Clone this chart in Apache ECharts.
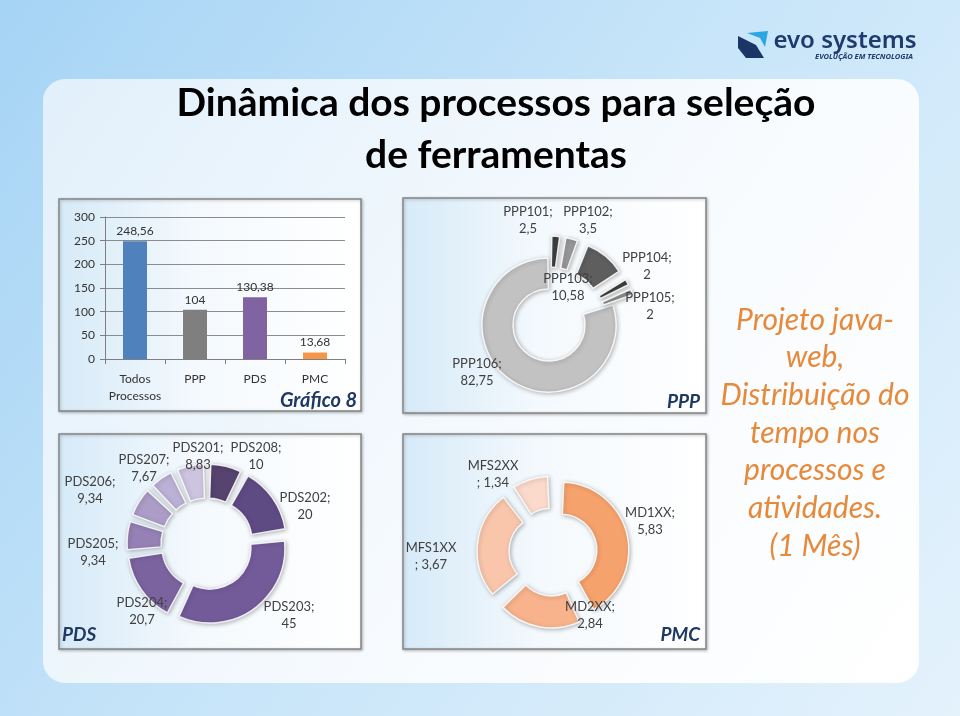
<!DOCTYPE html>
<html><head><meta charset="utf-8">
<script src="https://cdn.jsdelivr.net/npm/echarts/dist/echarts.min.js"></script>
<style>html,body{margin:0;padding:0;background:#c9e5f8;} #c{width:960px;height:716px;}</style>
</head><body><div id="c"></div>
<script>
// ---- data ----
const barCategories = ['Todos\nProcessos', 'PPP', 'PDS', 'PMC'];
const barValues = [248.56, 104, 130.38, 13.68];
const yTickMin = 0, yTickMax = 300, yTickStep = 50;

const pppNames = ['PPP101', 'PPP102', 'PPP103', 'PPP104', 'PPP105', 'PPP106'];
const pppValues = [2.5, 3.5, 10.58, 2, 2, 82.75];

const pdsNames = ['PDS208', 'PDS202', 'PDS203', 'PDS204', 'PDS205', 'PDS206', 'PDS207', 'PDS201'];
const pdsValues = [10, 20, 45, 20.7, 9.34, 9.34, 7.67, 8.83];

const pmcNames = ['MD1XX', 'MD2XX', 'MFS1XX', 'MFS2XX'];
const pmcValues = [5.83, 2.84, 3.67, 1.34];

// ---- styles / layout (not data) ----
const barColors = ['#4f81bd', '#7f7f7f', '#8064a2', '#f79646'];
const pppColors = ['#3f3f3f', '#989898', '#5e5e5e', '#3f3f3f', '#8f8f8f', '#c2c2c2'];
const pdsColors = ['#56436f', '#5f4b84', '#735b9a', '#7b63a0', '#9581b5', '#ab9dc7', '#bbb0d5', '#cdc4e0'];
const pmcColors = ['#f6a26d', '#f8b38c', '#f9c6ab', '#fcdacb'];

const pppCenter = [549, 325], pdsCenter = [207, 544], pmcCenter = [553, 552];
// data-label box centres relative to each pie centre (Excel "best fit" placement)
const pppLabelOffsets = [[-21, -105], [39, -105], [19, -38], [98, -59], [101, -19], [-72, 47]];
const pdsLabelOffsets = [[49, -88], [98, -38], [82, 71], [-65, 67], [-114, 8], [-117, -54], [-63, -76], [-9, -88]];
const pmcLabelOffsets = [[97, -31], [37, 63], [-122, 4], [-60, -78]];

const fmt = v => String(v).replace('.', ',');
const F = 'Lato, "Open Sans", sans-serif';
const sliceStyle = { borderColor: 'rgba(255,255,255,0.85)', borderWidth: 1.5, shadowBlur: 4, shadowColor: 'rgba(0,0,0,0.28)', shadowOffsetX: 1, shadowOffsetY: 1 };

function pieLabels(center, names, values, offsets, textFn) {
  return names.map((n, i) => ({
    type: 'text', z: 6,
    style: { text: textFn(n, values[i]), x: center[0] + offsets[i][0], y: center[1] + offsets[i][1],
      font: '13px ' + F, fill: '#404040', lineHeight: 17, textAlign: 'center', textVerticalAlign: 'middle' }
  }));
}
const stdLabel = (n, v) => n + ';\n' + fmt(v);
const pmcLabel = (n, v) => n.indexOf('MFS') === 0 ? n + '\n; ' + fmt(v) : n + ';\n' + fmt(v);

function box(x, y, w, h) {
  return {
    type: 'rect', z: -1, shape: { x, y, width: w, height: h },
    style: {
      fill: new echarts.graphic.LinearGradient(0, 0, 1, 0, [
        { offset: 0, color: '#d6eaf8' }, { offset: 0.45, color: '#f4f9fd' }, { offset: 1, color: '#ffffff' }]),
      stroke: '#858585', lineWidth: 1.5,
      shadowBlur: 3, shadowColor: 'rgba(0,0,0,0.25)', shadowOffsetX: 1, shadowOffsetY: 1
    }
  };
}
function txt(text, x, y, font, fill, align) {
  return { type: 'text', z: 5, style: { text, x, y, font, fill, textAlign: align || 'center', textVerticalAlign: 'middle' } };
}

const chart = echarts.init(document.getElementById('c'));
chart.setOption({
  animation: false,
  graphic: [
    { type: 'rect', z: -3, shape: { x: 0, y: 0, width: 960, height: 716 },
      style: { fill: new echarts.graphic.LinearGradient(0, 0, 1, 1, [
        { offset: 0, color: '#a6d4f5' }, { offset: 0.5, color: '#c8e5f9' }, { offset: 1, color: '#e4f2fc' }]) } },
    { type: 'rect', z: -2, shape: { x: 43, y: 79, width: 876, height: 604, r: 22 },
      style: { fill: new echarts.graphic.LinearGradient(0, 0, 1, 1, [
        { offset: 0, color: '#e2f0fb' }, { offset: 0.6, color: '#f8fbfe' }, { offset: 1, color: '#ffffff' }]) } },
    box(59, 199, 302, 212),
    box(403, 198, 303, 215),
    box(59, 434, 302, 215),
    box(403, 434, 303, 215),
    txt('Dinâmica dos processos para seleção', 496, 103, 'bold 39px ' + F, '#000'),
    txt('de ferramentas', 496, 155, 'bold 39px ' + F, '#000'),
    txt('Gráfico 8', 357, 401, 'italic bold 20px ' + F, '#1f3864', 'right'),
    txt('PPP', 700, 402, 'italic bold 19px ' + F, '#1f3864', 'right'),
    txt('PDS', 62, 635, 'italic bold 19px ' + F, '#1f3864', 'left'),
    txt('PMC', 700, 635, 'italic bold 19px ' + F, '#1f3864', 'right'),
    { type: 'text', z: 5, style: {
        text: 'Projeto java-\nweb,\nDistribuição do\ntempo nos\nprocessos e\natividades.\n(1 Mês)',
        x: 815, y: 433, font: 'italic 30px ' + F, fill: '#e6893b', lineHeight: 37.7,
        textAlign: 'center', textVerticalAlign: 'middle' } },
    // logo
    { type: 'polygon', z: 5, shape: { points: [[738, 36], [756, 45], [764, 58], [746, 58], [738, 48]] }, style: { fill: '#1b3566' } },
    { type: 'polygon', z: 5, shape: { points: [[747, 33], [768, 31], [765, 47], [760, 38]] }, style: { fill: '#2aa7e0' } },
    txt('evo systems', 845, 41, '600 24px "Noto Sans", sans-serif', '#1f3a6e'),
    txt('EVOLUÇÃO EM TECNOLOGIA', 913, 57, 'italic bold 7.5px "Noto Sans", sans-serif', '#1f3a6e', 'right')
  ].concat(
    pieLabels(pppCenter, pppNames, pppValues, pppLabelOffsets, stdLabel),
    pieLabels(pdsCenter, pdsNames, pdsValues, pdsLabelOffsets, stdLabel),
    pieLabels(pmcCenter, pmcNames, pmcValues, pmcLabelOffsets, pmcLabel)
  ),
  grid: { left: 105, top: 217, width: 240, height: 142 },
  xAxis: {
    type: 'category', data: barCategories,
    axisLine: { lineStyle: { color: '#7f7f7f' } },
    axisTick: { show: true, alignWithLabel: false, lineStyle: { color: '#7f7f7f' } },
    axisLabel: { fontSize: 12, color: '#333', fontFamily: F, margin: 12, lineHeight: 17, interval: 0 }
  },
  yAxis: {
    type: 'value', min: yTickMin, max: yTickMax, interval: yTickStep,
    axisLine: { show: true, lineStyle: { color: '#7f7f7f' } },
    axisTick: { show: true, lineStyle: { color: '#7f7f7f' } },
    axisLabel: { fontSize: 12, color: '#333', fontFamily: F, margin: 10 },
    splitLine: { lineStyle: { color: '#8c8c8c' } }
  },
  series: [
    {
      type: 'bar', barWidth: 24,
      data: barValues.map((v, i) => ({ value: v, itemStyle: { color: barColors[i] } })),
      label: { show: true, position: 'top', distance: 4, fontSize: 12, color: '#333', fontFamily: F, formatter: p => fmt(p.value) }
    },
    {
      type: 'pie', center: pppCenter, radius: [36, 67], startAngle: 90, clockwise: true,
      selectedMode: 'multiple', selectedOffset: 22, padAngle: 2,
      data: pppNames.map((n, i) => ({ name: n, value: pppValues[i], selected: pppValues[i] < 20, itemStyle: Object.assign({ color: pppColors[i] }, sliceStyle) })),
      label: { show: false }, labelLine: { show: false }
    },
    {
      type: 'pie', center: pdsCenter, radius: [41, 75], startAngle: 90, clockwise: true,
      selectedMode: 'multiple', selectedOffset: 5, padAngle: 4,
      data: pdsNames.map((n, i) => ({ name: n, value: pdsValues[i], selected: true, itemStyle: Object.assign({ color: pdsColors[i] }, sliceStyle) })),
      label: { show: false }, labelLine: { show: false }
    },
    {
      type: 'pie', center: pmcCenter, radius: [36, 68], startAngle: 90, clockwise: true,
      selectedMode: 'multiple', selectedOffset: 8, padAngle: 5,
      data: pmcNames.map((n, i) => ({ name: n, value: pmcValues[i], selected: true, itemStyle: Object.assign({ color: pmcColors[i] }, sliceStyle) })),
      label: { show: false }, labelLine: { show: false }
    }
  ]
});
</script></body></html>
